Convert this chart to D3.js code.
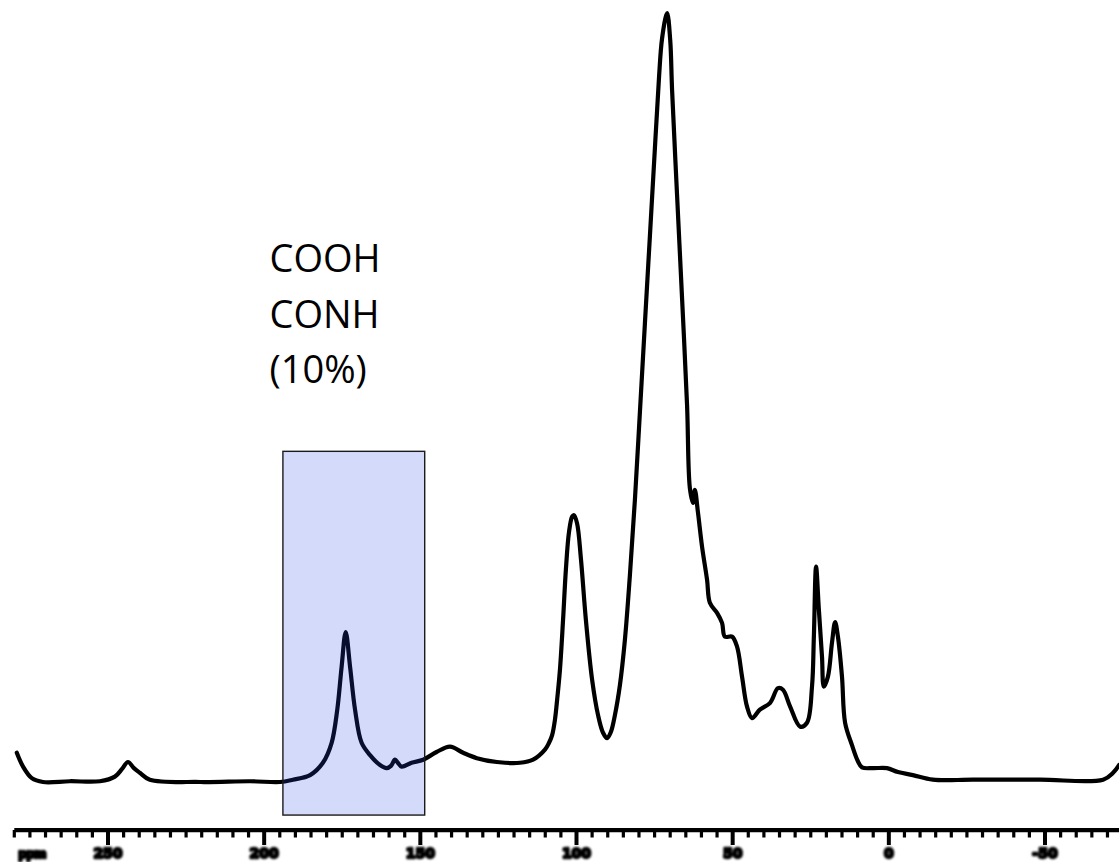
<!DOCTYPE html>
<html>
<head>
<meta charset="utf-8">
<script src="https://cdn.jsdelivr.net/npm/d3@7"></script>
<style>
  html, body { margin: 0; padding: 0; background: #fff; }
  svg { display: block; }
</style>
</head>
<body>
<svg id="chart" width="1119" height="862"></svg>
<script>
// 13C NMR spectrum: chemical shift (ppm) and relative intensity
const shiftPpm = [
  279.2, 277.2, 274.4, 270.8, 262.2, 252.6, 247.8, 245.5, 243.6, 241.7,
  239.8, 236.6, 220.5, 204.5, 194.9, 190.8, 185.3, 181.2, 178.4, 176.6,
  175.2, 173.9, 172.5, 170.9, 168.8, 166.1, 162.9, 160.8, 159.4, 158.1,
  157.2, 156.0, 152.8, 149.1, 144.8, 140.5, 136.3, 131.9, 125.5, 118.1,
  113.9, 110.1, 108.8, 107.8, 106.9, 106.2, 105.3, 104.3, 103.4, 102.4,
  101.4, 100.8, 99.8, 98.6, 97.0, 95.0, 93.1, 91.5, 90.2, 89.0,
  87.7, 86.1, 84.5, 82.9, 81.3, 79.7, 78.1, 76.5, 74.9, 73.6,
  72.6, 71.0, 70.0, 69.4, 67.8, 66.2, 64.6, 63.7, 62.7,
  62.1, 61.1, 59.8, 58.2, 57.3, 55.0, 53.4, 52.5, 50.2, 48.6,
  47.0, 45.4, 43.8, 41.3, 38.0, 35.5, 33.9, 31.6, 28.4, 26.2,
  24.6, 24.0, 23.3, 22.4, 21.4, 20.8, 19.5, 18.2, 17.2, 16.3,
  15.0, 14.0, 11.8, 9.9, 8.6, 5.1, 0.6, -2.9, -7.7, -14.1,
  -26.9, -48.4, -68.6, -71.8, -73.7
];
const intensity = [
  3.8, 2.0, 0.5, 0.0, 0.1, 0.1, 0.7, 1.7, 2.6, 1.8,
  1.2, 0.3, 0.0, 0.1, 0.0, 0.3, 0.9, 2.5, 5.1, 9.4,
  15.0, 19.5, 15.0, 9.4, 5.1, 3.5, 2.2, 1.8, 2.1, 2.9,
  2.5, 2.0, 2.5, 2.9, 3.9, 4.6, 3.8, 3.1, 2.6, 2.5,
  2.9, 4.2, 5.1, 6.1, 8.1, 10.7, 14.6, 21.1, 27.6, 32.5,
  34.5, 34.7, 33.6, 29.1, 21.1, 13.3, 8.7, 6.4, 5.7, 6.5,
  8.7, 12.6, 18.5, 26.9, 36.7, 48.1, 59.6, 71.0, 82.4, 91.5,
  96.7, 100.0, 96.5, 90.0, 76.3, 62.9, 49.0, 38.2, 36.3,
  38.0, 35.0, 30.6, 26.3, 23.3, 22.0, 20.7, 18.9, 18.9, 17.6,
  13.7, 9.8, 8.3, 9.4, 10.3, 12.2, 12.0, 9.8, 7.2, 7.7,
  12.4, 18.9, 28.0, 22.4, 16.3, 12.4, 13.7, 18.1, 20.8, 18.9,
  13.7, 7.7, 4.8, 2.7, 1.9, 1.8, 1.8, 1.3, 0.9, 0.3,
  0.3, 0.3, 0.3, 1.2, 2.2
];

// axis labels
const majorTicks = [250, 200, 150, 100, 50, 0, -50];
const axisUnit = "ppm";

// highlighted carboxyl / amide region
const regionPpm = [194, 148.6];
const regionIntensity = [-4.3, 43];
const regionLabel = ["COOH", "CONH", "(10%)"];

const svg = d3.select("#chart");

const x = d3.scaleLinear().domain([250, -50]).range([108, 1045]);
const y = d3.scaleLinear().domain([0, 100]).range([782, 13]);

const defs = svg.append("defs");
defs.append("filter").attr("id", "soft")
  .append("feGaussianBlur").attr("stdDeviation", 0.8);
defs.append("filter").attr("id", "softLine")
  .append("feGaussianBlur").attr("stdDeviation", 0.35);

const points = shiftPpm.map((p, i) => [p, intensity[i]]);

const line = d3.line()
  .x(d => x(d[0]))
  .y(d => y(d[1]))
  .curve(d3.curveCatmullRom.alpha(0.5));

svg.append("path")
  .datum(points)
  .attr("d", line)
  .attr("fill", "none")
  .attr("stroke", "#000")
  .attr("stroke-width", 4.2)
  .attr("stroke-linejoin", "round")
  .attr("stroke-linecap", "round")
  .attr("filter", "url(#softLine)");

// translucent highlight over the carboxyl band
svg.append("rect")
  .attr("x", x(regionPpm[0]))
  .attr("y", y(regionIntensity[1]))
  .attr("width", x(regionPpm[1]) - x(regionPpm[0]))
  .attr("height", y(regionIntensity[0]) - y(regionIntensity[1]))
  .attr("fill", "rgb(40,70,230)")
  .attr("fill-opacity", 0.2)
  .attr("stroke", "#1b1b1b")
  .attr("stroke-width", 1.4);

// region annotation
const label = svg.append("text")
  .attr("font-family", "'Open Sans', sans-serif")
  .attr("font-size", 38)
  .attr("fill", "#000");
regionLabel.forEach((t, i) => {
  label.append("tspan")
    .attr("x", x(198.3))
    .attr("y", 272 + i * 55.5)
    .text(t);
});

// chemical shift axis
const axisY = 830;
const axisG = svg.append("g").attr("filter", "url(#softLine)");
axisG.append("line")
  .attr("x1", x(280)).attr("x2", x(-74))
  .attr("y1", axisY).attr("y2", axisY)
  .attr("stroke", "#000").attr("stroke-width", 4.5);

const minorTicks = d3.range(-70, 281, 5).filter(v => !majorTicks.includes(v));
axisG.selectAll("line.minor")
  .data(minorTicks)
  .join("line")
  .attr("class", "minor")
  .attr("x1", d => x(d)).attr("x2", d => x(d))
  .attr("y1", axisY).attr("y2", axisY + 7.5)
  .attr("stroke", "#000").attr("stroke-width", 3.2);

axisG.selectAll("line.major")
  .data(majorTicks)
  .join("line")
  .attr("class", "major")
  .attr("x1", d => x(d)).attr("x2", d => x(d))
  .attr("y1", axisY).attr("y2", axisY + 15)
  .attr("stroke", "#000").attr("stroke-width", 4);

const labelG = svg.append("g")
  .attr("filter", "url(#soft)")
  .attr("font-family", "'DejaVu Sans', sans-serif")
  .attr("font-weight", "bold")
  .attr("font-size", 14)
  .attr("text-anchor", "middle")
  .attr("fill", "#000")
  .attr("stroke", "#000")
  .attr("stroke-width", 2.4)
  .attr("stroke-linejoin", "round");

labelG.selectAll("text.tick")
  .data(majorTicks)
  .join("text")
  .attr("class", "tick")
  .attr("x", d => x(d))
  .attr("y", 858)
  .text(d => d);

labelG.append("text")
  .attr("x", 32)
  .attr("y", 858)
  .attr("font-size", 12)
  .attr("letter-spacing", -0.8)
  .text(axisUnit);
</script>
</body>
</html>
